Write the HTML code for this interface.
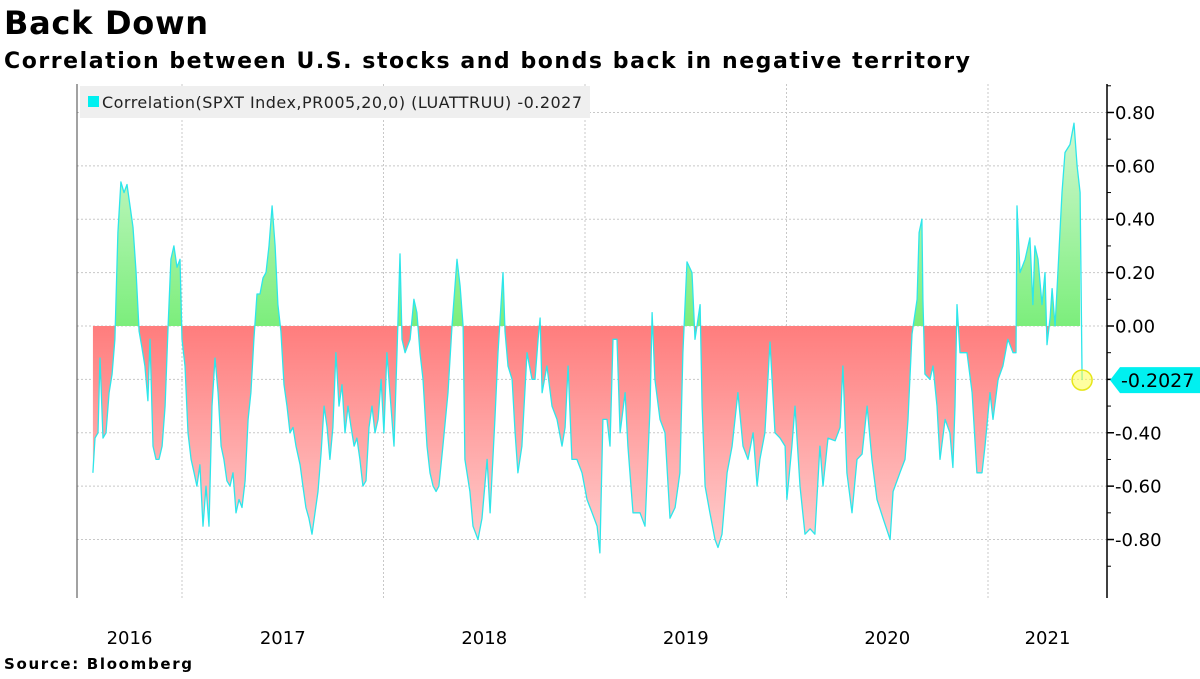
<!DOCTYPE html>
<html><head><meta charset="utf-8">
<style>
body{margin:0;background:#fff;width:1200px;height:675px;overflow:hidden;font-family:"DejaVu Sans","Liberation Sans",sans-serif;}
</style></head>
<body>
<svg id="chart" width="1200" height="675" xmlns="http://www.w3.org/2000/svg">
<defs>
<linearGradient id="redg" x1="0" y1="326" x2="0" y2="560" gradientUnits="userSpaceOnUse">
<stop offset="0" stop-color="#ff7d7d"/><stop offset="1" stop-color="#ffd2d2"/></linearGradient>
<linearGradient id="greeng" x1="0" y1="326" x2="0" y2="120" gradientUnits="userSpaceOnUse">
<stop offset="0" stop-color="#7cee7c"/><stop offset="1" stop-color="#d2f8d2"/></linearGradient>
<clipPath id="clipTop"><rect x="0" y="0" width="1200" height="326"/></clipPath>
<clipPath id="clipBot"><rect x="0" y="326" width="1200" height="400"/></clipPath>
</defs>
<text x="4" y="34" font-size="32" font-weight="bold" fill="#000" textLength="204" lengthAdjust="spacing">Back Down</text>
<text x="4" y="68" font-size="22" font-weight="bold" fill="#000" textLength="966" lengthAdjust="spacing">Correlation between U.S. stocks and bonds back in negative territory</text>
<text x="4" y="669" font-size="15" font-weight="bold" fill="#000" textLength="188" lengthAdjust="spacing">Source: Bloomberg</text>
<g id="grid"></g>
<g id="areas"></g>
<g id="line"></g>
<line x1="77" y1="84" x2="77" y2="598" stroke="#444" stroke-width="1"/>
<line x1="1107" y1="84" x2="1107" y2="598" stroke="#000" stroke-width="1.5"/>
<g id="yaxis"></g>
<g id="xaxis"></g>
<rect x="80" y="86" width="510" height="32" fill="#efefef"/>
<rect x="88" y="96" width="11" height="11" fill="#00f0f0"/>
<text x="102" y="108" font-size="16" fill="#222" textLength="480" lengthAdjust="spacing">Correlation(SPXT Index,PR005,20,0) (LUATTRUU) -0.2027</text>
<g id="callout"></g>
</svg>
<script>
const dates=[2016.558,2016.568,2016.583,2016.593,2016.608,2016.623,2016.638,2016.653,2016.667,2016.682,2016.697,2016.712,2016.727,2016.742,2016.757,2016.772,2016.787,2016.801,2016.816,2016.831,2016.841,2016.856,2016.871,2016.886,2016.901,2016.916,2016.931,2016.945,2016.960,2016.975,2016.990,
2017.000,2017.015,2017.030,2017.045,2017.060,2017.074,2017.089,2017.104,2017.119,2017.134,2017.149,2017.164,2017.179,2017.194,2017.208,2017.223,2017.238,2017.253,2017.268,2017.283,2017.298,2017.313,2017.328,2017.342,2017.357,2017.372,2017.387,2017.402,2017.417,2017.432,2017.447,2017.462,2017.476,2017.491,2017.506,2017.521,2017.536,2017.551,2017.566,2017.586,2017.600,2017.615,2017.630,2017.645,2017.660,2017.675,2017.690,2017.705,2017.720,2017.734,2017.749,2017.764,2017.779,2017.794,2017.809,2017.824,2017.839,2017.854,2017.868,2017.883,2017.898,2017.913,2017.928,2017.943,2017.958,2017.973,2017.988,
2018.002,2018.017,2018.032,2018.052,2018.067,2018.082,2018.092,2018.107,2018.132,2018.151,2018.166,2018.181,2018.196,2018.216,2018.231,2018.246,2018.261,2018.275,2018.295,2018.320,2018.340,2018.365,2018.380,2018.395,2018.404,2018.429,2018.444,2018.469,2018.489,2018.514,2018.529,2018.553,2018.568,2018.593,2018.603,2018.618,2018.638,2018.653,2018.667,2018.687,2018.712,2018.737,2018.752,2018.767,2018.777,2018.787,2018.811,2018.836,2018.861,2018.886,2018.901,2018.916,2018.935,2018.960,2018.985,
2019.010,2019.035,2019.060,2019.074,2019.089,2019.109,2019.124,2019.139,2019.159,2019.174,2019.199,2019.213,2019.238,2019.273,2019.298,2019.323,2019.333,2019.347,2019.372,2019.397,2019.422,2019.447,2019.471,2019.486,2019.506,2019.531,2019.546,2019.571,2019.581,2019.596,2019.620,2019.645,2019.660,2019.680,2019.705,2019.730,2019.759,2019.784,2019.809,2019.834,2019.854,2019.868,2019.893,2019.918,2019.943,2019.968,2019.993,
2020.002,2020.027,2020.042,2020.067,2020.092,2020.117,2020.141,2020.166,2020.181,2020.206,2020.241,2020.266,2020.280,2020.300,2020.325,2020.350,2020.375,2020.400,2020.424,2020.449,2020.479,2020.514,2020.529,2020.563,2020.588,2020.603,2020.623,2020.648,2020.658,2020.672,2020.677,2020.687,2020.712,2020.727,2020.747,2020.762,2020.787,2020.811,2020.826,2020.836,2020.846,2020.861,2020.896,2020.921,2020.945,2020.970,2020.985,
2021.010,2021.025,2021.050,2021.074,2021.099,2021.124,2021.139,2021.144,2021.159,2021.184,2021.208,2021.223,2021.233,2021.248,2021.268,2021.283,2021.293,2021.308,2021.318,2021.333,2021.347,2021.367,2021.382,2021.407,2021.427,2021.442,2021.457,2021.467];
const values=[-0.55,-0.42,-0.40,-0.12,-0.42,-0.40,-0.25,-0.18,-0.05,0.35,0.54,0.50,0.53,0.45,0.37,0.20,-0.02,-0.08,-0.15,-0.28,-0.05,-0.45,-0.50,-0.50,-0.45,-0.30,0.00,0.25,0.30,0.22,0.25,
-0.05,-0.15,-0.40,-0.50,-0.55,-0.60,-0.52,-0.75,-0.60,-0.75,-0.30,-0.12,-0.25,-0.45,-0.50,-0.58,-0.60,-0.55,-0.70,-0.65,-0.68,-0.58,-0.35,-0.25,-0.05,0.12,0.12,0.18,0.20,0.30,0.45,0.30,0.08,-0.02,-0.22,-0.30,-0.40,-0.38,-0.45,-0.52,-0.60,-0.68,-0.72,-0.78,-0.70,-0.62,-0.48,-0.30,-0.38,-0.50,-0.38,-0.10,-0.30,-0.22,-0.40,-0.30,-0.38,-0.45,-0.42,-0.50,-0.60,-0.58,-0.38,-0.30,-0.40,-0.35,-0.20,
-0.40,-0.10,-0.25,-0.45,-0.10,0.27,-0.05,-0.10,-0.05,0.10,0.05,-0.10,-0.20,-0.45,-0.55,-0.60,-0.62,-0.60,-0.45,-0.25,0.00,0.25,0.15,0.00,-0.50,-0.62,-0.75,-0.80,-0.72,-0.50,-0.70,-0.35,-0.10,0.20,-0.02,-0.15,-0.20,-0.40,-0.55,-0.45,-0.10,-0.20,-0.20,-0.05,0.03,-0.25,-0.15,-0.30,-0.35,-0.45,-0.38,-0.15,-0.50,-0.50,-0.55,
-0.65,-0.70,-0.75,-0.85,-0.35,-0.35,-0.45,-0.05,-0.05,-0.40,-0.25,-0.45,-0.70,-0.70,-0.75,-0.30,0.05,-0.20,-0.35,-0.40,-0.72,-0.68,-0.55,-0.10,0.24,0.20,-0.05,0.08,-0.30,-0.60,-0.70,-0.80,-0.83,-0.78,-0.55,-0.45,-0.25,-0.45,-0.50,-0.40,-0.60,-0.50,-0.40,-0.06,-0.40,-0.42,-0.45,
-0.65,-0.45,-0.30,-0.60,-0.78,-0.76,-0.78,-0.45,-0.60,-0.42,-0.43,-0.38,-0.15,-0.55,-0.70,-0.50,-0.48,-0.30,-0.50,-0.65,-0.72,-0.80,-0.62,-0.55,-0.50,-0.35,-0.03,0.10,0.35,0.40,0.10,-0.18,-0.20,-0.15,-0.30,-0.50,-0.35,-0.40,-0.53,-0.30,0.08,-0.10,-0.10,-0.25,-0.55,-0.55,-0.45,
-0.25,-0.35,-0.20,-0.15,-0.05,-0.10,-0.10,0.45,0.20,0.25,0.33,0.08,0.30,0.25,0.08,0.20,-0.07,0.03,0.14,0.00,0.20,0.50,0.65,0.68,0.76,0.60,0.50,-0.2027];
const yTicks=[0.8,0.6,0.4,0.2,0,-0.2,-0.4,-0.6,-0.8];
const yTickLabels=["0.80","0.60","0.40","0.20","0.00","-0.20","-0.40","-0.60","-0.80"];
const xYears=[2016,2017,2018,2019,2020,2021];
const lastLabel="-0.2027";

const NS="http://www.w3.org/2000/svg";
const X0=77,X1=1107;
function xs(t){return 182+(t-2017)*201.5;}
function ys(v){return 326-v*266.9;}
function mk(tag,attrs,parent){const e=document.createElementNS(NS,tag);for(const k in attrs)e.setAttribute(k,attrs[k]);parent.appendChild(e);return e;}
const grid=document.getElementById('grid'),yax=document.getElementById('yaxis'),xax=document.getElementById('xaxis');
yTicks.forEach((v,i)=>{
  const y=ys(v);
  const g=mk('line',{x1:X0,x2:X1,y1:y,y2:y,stroke:'#c8c8c8','stroke-width':1,'stroke-dasharray':'2,2'},grid);
  
  
  const t=mk('line',{x1:X1,x2:X1+7,y1:y,y2:y,stroke:'#000','stroke-width':1.5},yax);
  
  
  const lb=mk('text',{x:X1+8,y:y+6.5,'font-size':18,fill:'#000'},yax);
  lb.textContent=yTickLabels[i];
  
  
});
for(let k=0;k<yTicks.length+1;k++){
  const v=yTicks[0]+0.1-k*0.2;
  const y=ys(v);
  if(y<85||y>598)continue;
  const t=mk('line',{x1:X1,x2:X1+4,y1:y,y2:y,stroke:'#000','stroke-width':1},yax);
  
  
}
xYears.forEach((yr,i)=>{
  const xb=xs(yr);
  if(i>0){
    const g=mk('line',{x1:xb,x2:xb,y1:84,y2:598,stroke:'#c8c8c8','stroke-width':1,'stroke-dasharray':'2,2'},grid);
    
    
  }
  const a=Math.max(X0,xb),b=Math.min(X1,xs(yr+1));
  const lb=mk('text',{x:(a+b)/2,y:644,'font-size':18,fill:'#000','text-anchor':'middle'},xax);
  lb.textContent=String(yr);
  
  
});
const areas=document.getElementById('areas');
const n=values.length-1;
let d='M'+xs(dates[0])+','+ys(0);
for(let i=0;i<n;i++)d+=' L'+xs(dates[i]).toFixed(1)+','+ys(values[i]).toFixed(1);
d+=' L'+xs(dates[n-1]).toFixed(1)+','+ys(0)+' Z';
const ar=mk('path',{d:d,fill:'url(#redg)','clip-path':'url(#clipBot)'},areas);


const ag=mk('path',{d:d,fill:'url(#greeng)','clip-path':'url(#clipTop)'},areas);


let ld='';
for(let i=0;i<values.length;i++)ld+=(i?' L':'M')+xs(dates[i]).toFixed(1)+','+ys(values[i]).toFixed(1);
const ln=mk('path',{d:ld,fill:'none',stroke:'#2ee6ea','stroke-width':1.3,'stroke-linejoin':'round'},document.getElementById('line'));


const co=document.getElementById('callout');
const lx=xs(dates[n]),ly=ys(values[n]);
const c=mk('circle',{cx:lx,cy:ly,r:10,fill:'rgba(255,255,80,0.55)',stroke:'#e6e619','stroke-width':1.5},co);


const tag=mk('polygon',{points:`1110,${ly} 1120,${ly-13} 1200,${ly-13} 1200,${ly+13} 1120,${ly+13}`,fill:'#00f0f0'},co);


const tt=mk('text',{x:1121,y:ly+7,'font-size':19,fill:'#000'},co);
tt.textContent=lastLabel;


</script>
</body></html>
